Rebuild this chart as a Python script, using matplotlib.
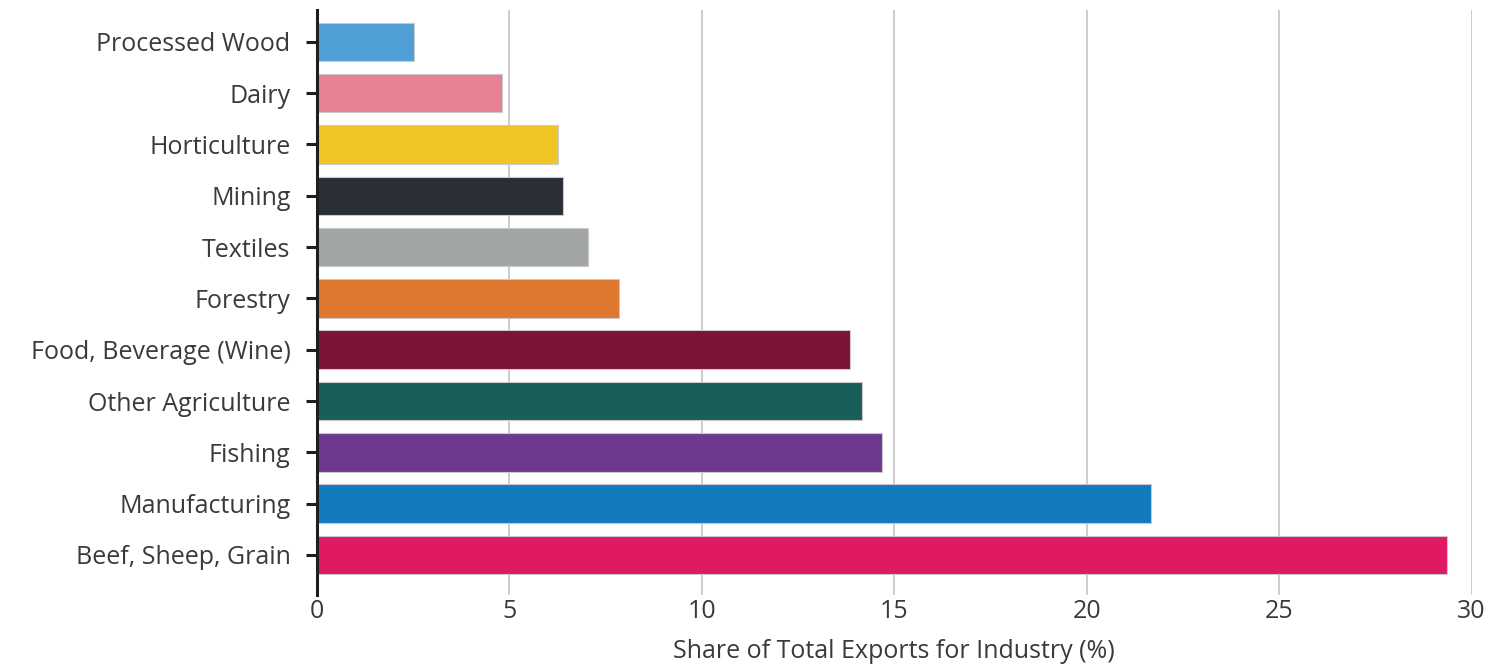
import matplotlib.pyplot as plt
import numpy as np

# share of total exports by industry, top to bottom as listed
industries = ["Processed Wood", "Dairy", "Horticulture", "Mining", "Textiles",
              "Forestry", "Food, Beverage (Wine)", "Other Agriculture",
              "Fishing", "Manufacturing", "Beef, Sheep, Grain"]
shares = [2.52, 4.82, 6.26, 6.38, 7.03, 7.86, 13.84, 14.15, 14.69, 21.66, 29.37]
colours = ["#4F9ED6", "#E68093", "#F1C526", "#2A2E36", "#A2A5A6", "#E0772E",
           "#7A1338", "#1A5E59", "#6E388F", "#137BBD", "#DF1A62"]
xticks = [0, 5, 10, 15, 20, 25, 30]

plt.rcParams['font.family'] = ['Open Sans', 'DejaVu Sans']
FS = 18

fig = plt.figure(figsize=(14.91, 6.67), dpi=100)
ax = fig.add_axes([0.2126, 0.108, 0.7744, 0.877])

ypos = np.arange(len(industries))
ax.barh(ypos, shares, height=0.75, color=colours,
        edgecolor="#C9C9CC", linewidth=0.8, zorder=3)

ax.set_ylim(len(industries) - 1 + 0.78, -0.62)
ax.set_xlim(0, 30)
ax.set_yticks(ypos)
ax.set_yticklabels(industries, fontsize=FS, color="#3A3A3A")
ax.set_xticks(xticks)
ax.set_xticklabels([str(t) for t in xticks], fontsize=FS, color="#3A3A3A")
ax.tick_params(axis="y", length=8, width=2.2, color="#1E1E1E", pad=11)
ax.tick_params(axis="x", length=0, pad=3)
ax.grid(axis="x", color="#C8C8CE", linewidth=1.3, zorder=0)

for side in ["top", "right", "bottom"]:
    ax.spines[side].set_visible(False)
ax.spines["left"].set_linewidth(2.2)
ax.spines["left"].set_color("#1E1E1E")
ax.spines["left"].set_zorder(4)

ax.set_xlabel("Share of Total Exports for Industry (%)", fontsize=FS,
              color="#3A3A3A", labelpad=11)

fig.savefig("out.png", dpi=100)
plt.close()
